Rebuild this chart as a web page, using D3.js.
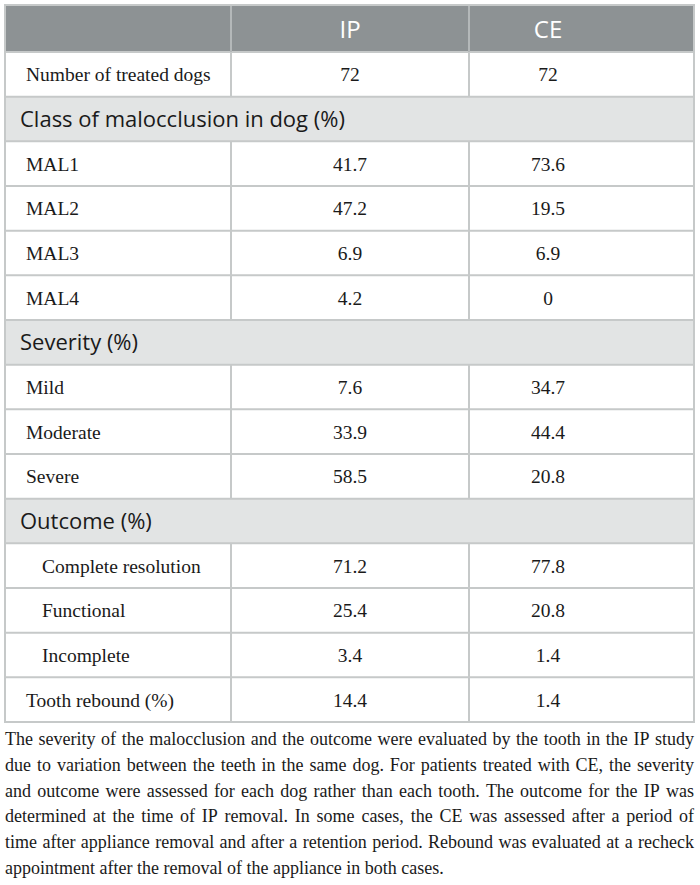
<!DOCTYPE html>
<html>
<head>
<meta charset="utf-8">
<script src="https://d3js.org/d3.v7.min.js"></script>
<style>
  body { margin: 0; background: #fff; }
  svg { display: block; }
  .cell { font-family: "Liberation Serif", "Times New Roman", serif; font-size: 19.5px; fill: #1a1a1a; }
  .sect { font-family: "Open Sans", sans-serif; font-size: 22px; fill: #1a1a1a; }
  .head { font-family: "Open Sans", sans-serif; font-size: 24px; fill: #fff; text-anchor: middle; }
  .note { font-family: "Liberation Serif", "Times New Roman", serif; font-size: 18px; fill: #1a1a1a; }
</style>
</head>
<body>
<script>
  const columns = ["IP", "CE"];

  const rowLabels = ["Number of treated dogs", "Class of malocclusion in dog (%)", "MAL1", "MAL2", "MAL3", "MAL4",
    "Severity (%)", "Mild", "Moderate", "Severe", "Outcome (%)",
    "Complete resolution", "Functional", "Incomplete", "Tooth rebound (%)"];
  const rowTypes = ["data", "section", "data", "data", "data", "data",
    "section", "data", "data", "data", "section",
    "sub", "sub", "sub", "data"];
  const ipValues = ["72", "", "41.7", "47.2", "6.9", "4.2", "", "7.6", "33.9", "58.5", "", "71.2", "25.4", "3.4", "14.4"];
  const ceValues = ["72", "", "73.6", "19.5", "6.9", "0", "", "34.7", "44.4", "20.8", "", "77.8", "20.8", "1.4", "1.4"];

  const noteLines = [
    "The severity of the malocclusion and the outcome were evaluated by the tooth in the IP study",
    "due to variation between the teeth in the same dog. For patients treated with CE, the severity",
    "and outcome were assessed for each dog rather than each tooth. The outcome for the IP was",
    "determined at the time of IP removal. In some cases, the CE was assessed after a period of",
    "time after appliance removal and after a retention period. Rebound was evaluated at a recheck",
    "appointment after the removal of the appliance in both cases."
  ];

  const W = 700, H = 885;
  const left = 5, right = 694, div1 = 231, div2 = 469;
  const headTop = 5, headBottom = 52, tableBottom = 722;
  const lineColor = "#c6c9c9";

  const svg = d3.select("body").append("svg")
    .attr("width", W)
    .attr("height", H);

  const rows = rowLabels.map((d, i) => ({
    label: d, type: rowTypes[i], ip: ipValues[i], ce: ceValues[i], i: i
  }));

  const y = d3.scaleBand()
    .domain(d3.range(rows.length))
    .range([headBottom, tableBottom]);

  // column text anchors (CE column content sits left of its middle in the original)
  const colX = d3.scaleOrdinal().domain(columns).range([350, 548]);

  // header
  svg.append("rect")
    .attr("x", left).attr("y", headTop)
    .attr("width", right - left).attr("height", headBottom - headTop)
    .attr("fill", "#8d9294");

  svg.selectAll(".head")
    .data(columns)
    .enter()
    .append("text")
    .attr("class", "head")
    .attr("x", d => colX(d))
    .attr("y", (headTop + headBottom) / 2 + 9.5)
    .text(d => d);

  // row backgrounds
  svg.selectAll(".rowbg")
    .data(rows)
    .enter()
    .append("rect")
    .attr("x", left)
    .attr("y", d => y(d.i))
    .attr("width", right - left)
    .attr("height", y.bandwidth())
    .attr("fill", d => d.type == "section" ? "#e2e4e4" : "#fff");

  // horizontal lines
  svg.selectAll(".hline")
    .data(d3.range(rows.length + 1))
    .enter()
    .append("line")
    .attr("x1", left).attr("x2", right)
    .attr("y1", d => d == rows.length ? tableBottom : y(d))
    .attr("y2", d => d == rows.length ? tableBottom : y(d))
    .attr("stroke", lineColor)
    .attr("stroke-width", 2);

  // vertical dividers (skip section rows)
  const vsegs = [{ y0: headTop, y1: headBottom, head: true }];
  rows.forEach(r => {
    if (r.type != "section") vsegs.push({ y0: y(r.i), y1: y(r.i) + y.bandwidth() });
  });
  [div1, div2].forEach(x => {
    svg.selectAll(null)
      .data(vsegs)
      .enter()
      .append("line")
      .attr("x1", x).attr("x2", x)
      .attr("y1", d => d.y0).attr("y2", d => d.y1)
      .attr("stroke", d => d.head ? "#b4b8b9" : lineColor)
      .attr("stroke-width", 2);
  });

  // outer border
  svg.append("rect")
    .attr("x", left).attr("y", headTop)
    .attr("width", right - left).attr("height", tableBottom - headTop)
    .attr("fill", "none")
    .attr("stroke", lineColor)
    .attr("stroke-width", 2);

  // labels
  svg.selectAll(".label")
    .data(rows)
    .enter()
    .append("text")
    .attr("class", d => d.type == "section" ? "sect" : "cell")
    .attr("x", d => d.type == "section" ? 20 : d.type == "sub" ? 42 : 26)
    .attr("y", d => y(d.i) + y.bandwidth() / 2 + (d.type == "section" ? 7.5 : 7))
    .text(d => d.label);

  // values
  const valueRows = rows.filter(d => d.type != "section");
  columns.forEach(c => {
    svg.selectAll(null)
      .data(valueRows)
      .enter()
      .append("text")
      .attr("class", "cell")
      .attr("text-anchor", "middle")
      .attr("x", colX(c))
      .attr("y", d => y(d.i) + y.bandwidth() / 2 + 7)
      .text(d => c == "IP" ? d.ip : d.ce);
  });

  // footnote, justified line by line
  const noteTop = 745, noteStep = 25.8, noteWidth = right - left;
  noteLines.forEach((line, li) => {
    const yy = noteTop + li * noteStep;
    const words = line.split(" ");
    const g = svg.append("g");
    if (li == noteLines.length - 1) {
      g.append("text").attr("class", "note").attr("x", left).attr("y", yy).text(line);
      return;
    }
    const nodes = words.map(w => g.append("text").attr("class", "note").attr("y", yy).text(w));
    const widths = nodes.map(n => n.node().getComputedTextLength());
    const total = d3.sum(widths);
    const gap = (noteWidth - total) / (words.length - 1);
    if (gap < 2.5) {
      g.selectAll("text").remove();
      g.append("text").attr("class", "note").attr("x", left).attr("y", yy)
        .attr("textLength", noteWidth).attr("lengthAdjust", "spacingAndGlyphs").text(line);
      return;
    }
    let x = left;
    nodes.forEach((n, k) => {
      n.attr("x", x);
      x += widths[k] + gap;
    });
  });
</script>
</body>
</html>
